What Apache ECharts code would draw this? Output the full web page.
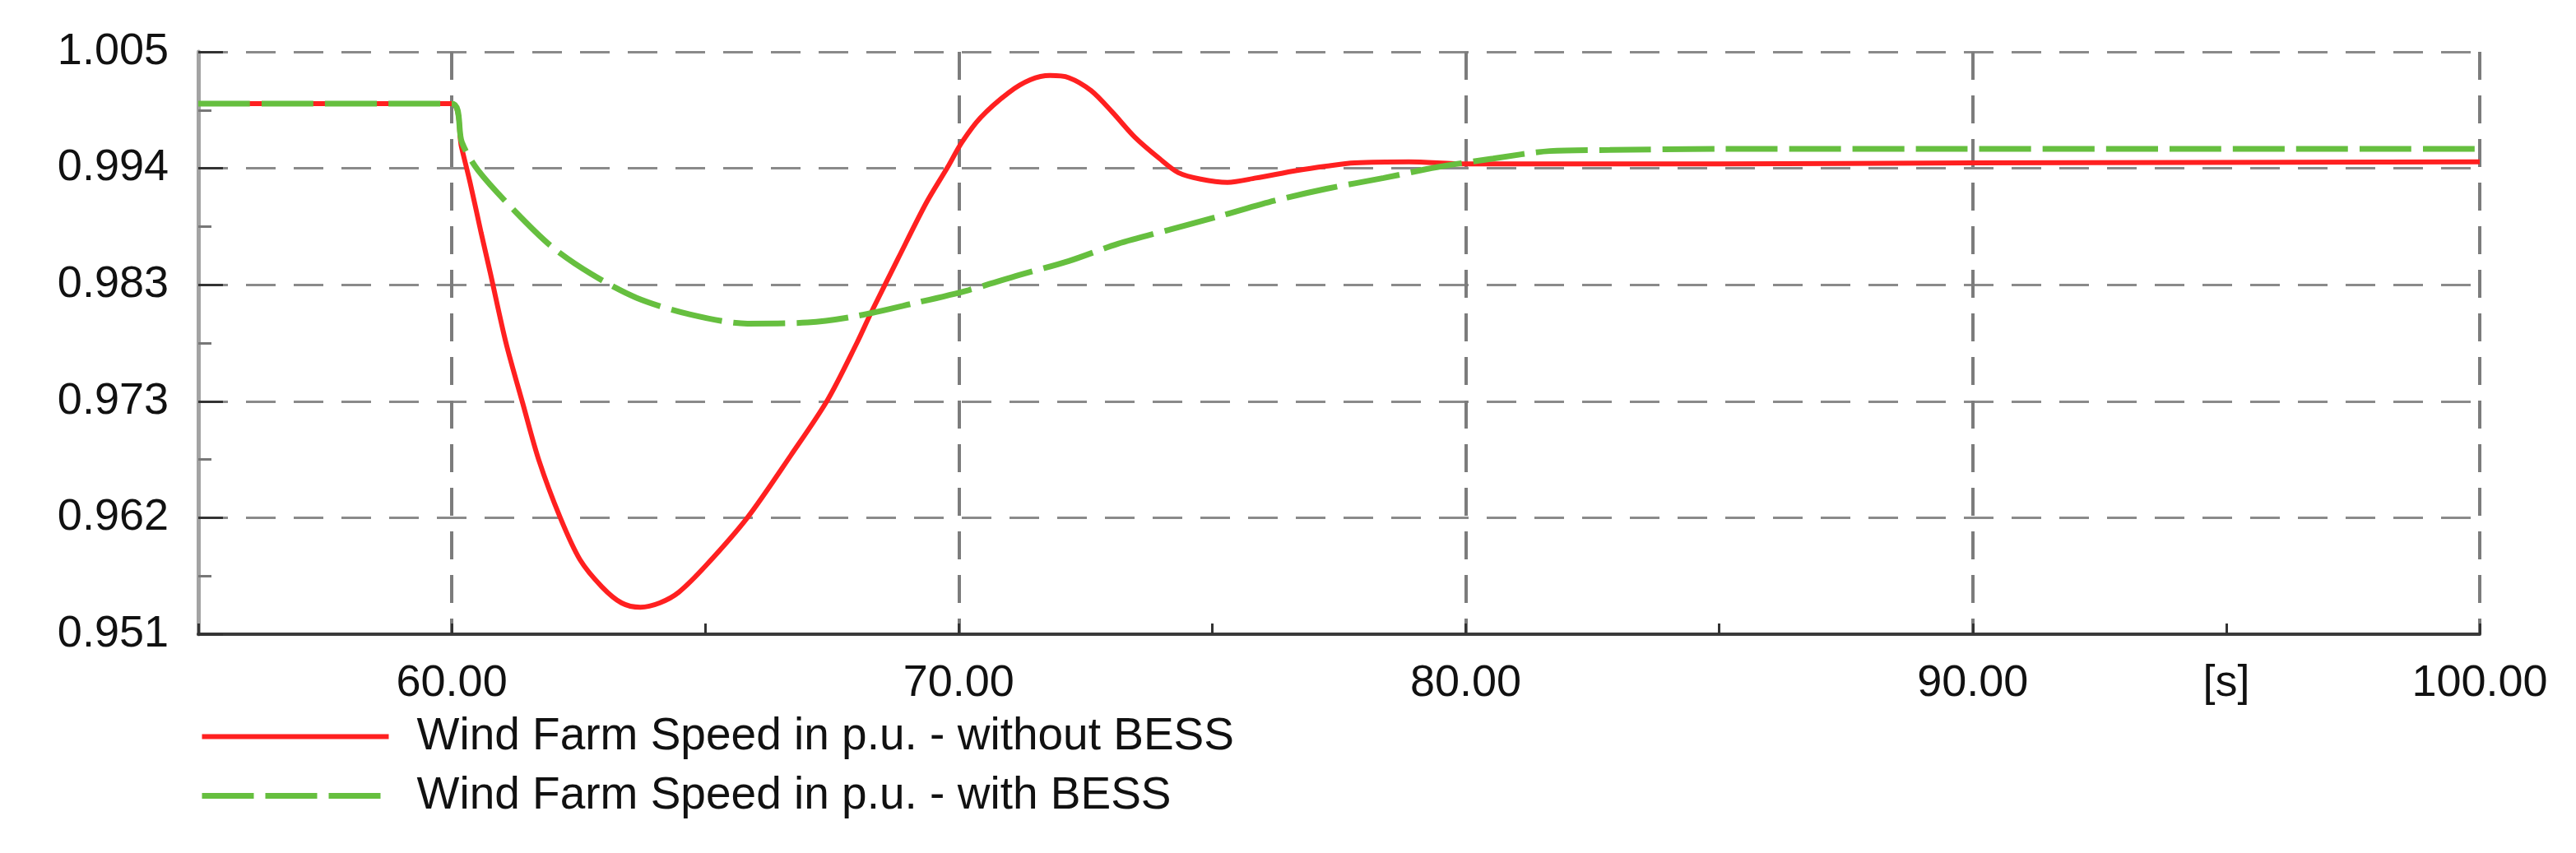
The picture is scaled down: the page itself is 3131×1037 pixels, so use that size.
<!DOCTYPE html>
<html>
<head>
<meta charset="utf-8">
<script src="https://cdn.jsdelivr.net/npm/echarts@6/dist/echarts.min.js"></script>
<style>
  html, body { margin: 0; background: #fff; }
  #chart { width: 3131px; height: 1037px; }
</style>
</head>
<body>
<div id="chart"></div>
<script>
// time [s] and speed [p.u.]
const redTime = [55, 60, 60.19, 60.36, 60.58, 60.76, 61.07, 61.40, 61.72, 62.14, 62.53, 62.96, 63.35, 63.72, 64.10, 64.48,
  65.02, 65.83, 66.69, 67.41, 67.99, 68.27, 68.81, 69.36, 69.78, 70.06, 70.43, 70.98, 71.41, 71.80, 72.17, 72.61,
  73.03, 73.47, 73.96, 74.33, 74.77, 75.30, 75.86, 76.67, 77.25, 77.81, 78.88, 80, 85, 90, 100]
const redSpeed = [1.0002, 1.0002, 0.9962, 0.9929, 0.9882, 0.9845, 0.9780, 0.9724, 0.9671, 0.9618, 0.9579, 0.9554, 0.9539, 0.9535, 0.9539, 0.9549,
  0.9574, 0.9618, 0.9676, 0.9727, 0.9780, 0.9808, 0.9859, 0.9910, 0.9943, 0.9966, 0.9989, 1.0012, 1.0024, 1.0028, 1.0026, 1.0014,
  0.9994, 0.9971, 0.9951, 0.9938, 0.9932, 0.9929, 0.9933, 0.9940, 0.9944, 0.9947, 0.9948, 0.9946, 0.9946, 0.9947, 0.9948]

const greenTime = [55, 60, 60.20, 60.52, 61.25, 61.98, 62.75, 63.64, 64.66, 65.83, 67.02, 67.98, 69.13, 70.19, 71.19, 72.17,
  73.14, 74.15, 75.17, 76.23, 77.25, 78.38, 79.43, 80.54, 81.66, 82.84, 85, 100]
const greenSpeed = [1.0002, 1.0002, 0.9966, 0.9940, 0.9902, 0.9869, 0.9844, 0.9822, 0.9807, 0.9798, 0.9799, 0.9805, 0.9817, 0.9829, 0.9843, 0.9856,
  0.9872, 0.9885, 0.9898, 0.9912, 0.9923, 0.9933, 0.9943, 0.9951, 0.9958, 0.9959, 0.9960, 0.9960]

const yTickLabels = ['0.951', '0.962', '0.973', '0.983', '0.994', '1.005']
const xTickLabels = { 60: '60.00', 70: '70.00', 80: '80.00', 90: '90.00', 95: '[s]', 100: '100.00' }
const seriesNames = ['Wind Farm Speed in p.u. - without BESS', 'Wind Farm Speed in p.u. - with BESS']

// y axis is 0.951 .. 1.005 in 5 equal steps, so plot it as offset from 0.951 in 1e-4 units
const yBase = 0.951
const yScale = 10000
const toPairs = (t, v) => t.map((x, i) => [x, (v[i] - yBase) * yScale])

const font = 'Liberation Sans, Arial, sans-serif'
const redLine = { color: '#ff2020', width: 6 }
const greenLine = { color: '#66bf3f', width: 7, type: [63, 14] }

const option = {
  backgroundColor: '#fff',
  animation: false,
  textStyle: { fontFamily: font },
  grid: { left: 241, right: 117, top: 63, bottom: 266, containLabel: false },
  legend: {
    orient: 'vertical',
    left: 242,
    top: 868,
    padding: 0,
    itemWidth: 227,
    itemHeight: 20,
    itemGap: 17,
    itemStyle: { opacity: 0 },
    textStyle: { fontSize: 55, color: '#111', fontFamily: font, padding: [0, 0, 0, 29] },
    data: [
      { name: seriesNames[0], lineStyle: redLine },
      { name: seriesNames[1], lineStyle: greenLine }
    ]
  },
  xAxis: {
    type: 'value',
    min: 55,
    max: 100,
    interval: 5,
    axisLine: { lineStyle: { color: '#3a3a3a', width: 4 } },
    axisTick: { inside: true, length: 13, lineStyle: { color: '#333', width: 3 } },
    axisLabel: {
      margin: 33,
      fontSize: 54,
      color: '#111',
      fontFamily: font,
      formatter: (v) => xTickLabels[v] || ''
    },
    splitLine: {
      show: true,
      lineStyle: { color: ['rgba(0,0,0,0)', '#7c7c7c'], width: 4, type: [34, 19] }
    }
  },
  yAxis: {
    type: 'value',
    min: 0,
    max: 540,
    interval: 108,
    axisLine: { show: true, lineStyle: { color: '#a3a3a3', width: 5 } },
    axisTick: { show: true, inside: true, length: 30, lineStyle: { color: '#333', width: 3 } },
    minorTick: { show: true, splitNumber: 2, length: 16, lineStyle: { color: '#777', width: 3 } },
    axisLabel: {
      margin: 36,
      fontSize: 54,
      color: '#111',
      fontFamily: font,
      formatter: (v) => yTickLabels[Math.round(v / 108)]
    },
    splitLine: { show: true, lineStyle: { color: '#8a8a8a', width: 3, type: [36, 22] } }
  },
  series: [
    {
      name: seriesNames[0],
      type: 'line',
      symbol: 'none',
      smooth: 0.3,
      lineStyle: redLine,
      itemStyle: { color: redLine.color },
      data: toPairs(redTime, redSpeed)
    },
    {
      name: seriesNames[1],
      type: 'line',
      symbol: 'none',
      smooth: 0.3,
      lineStyle: greenLine,
      itemStyle: { color: greenLine.color },
      data: toPairs(greenTime, greenSpeed)
    }
  ]
}

const myChart = echarts.init(document.getElementById('chart'))
myChart.setOption(option)
window.onresize = function () {
  myChart.resize()
}
</script>
</body>
</html>
